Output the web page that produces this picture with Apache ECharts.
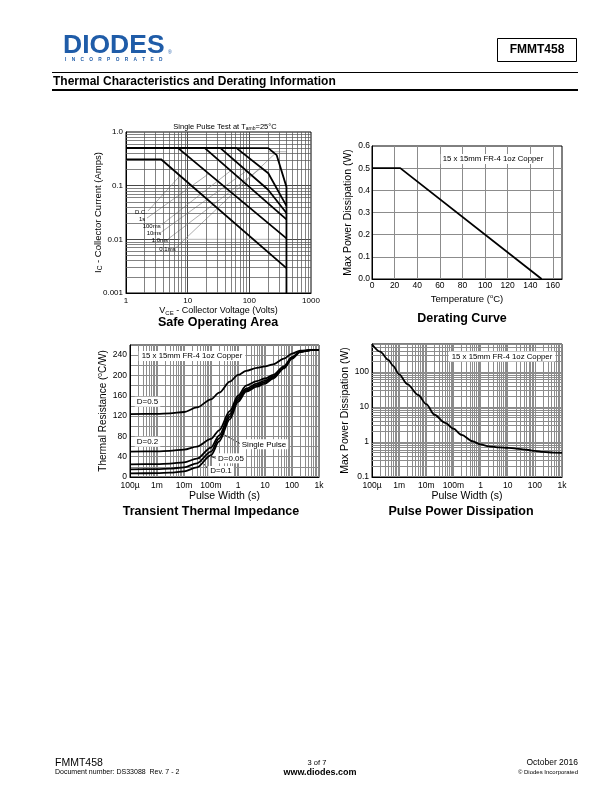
<!DOCTYPE html>
<html>
<head>
<meta charset="utf-8">
<script src="https://cdn.jsdelivr.net/npm/echarts@6.0.0/dist/echarts.min.js"></script>
<style>
html,body{margin:0;padding:0;background:#fff;}
#chart{width:612px;height:792px;}
</style>
</head>
<body>
<div id="chart"></div>
<script>
// ---------- Safe Operating Area : [Vce (V), Ic (A)] ----------
const soaDC    = [[1,0.31],[3.7,0.31],[400,0.0029]];
const soa1s    = [[1,0.5],[7,0.5],[400,0.0104]];
const soa100ms = [[1,0.5],[19,0.5],[400,0.0236]];
const soa10ms  = [[1,0.5],[34,0.5],[200,0.085],[400,0.031]];
const soa1ms   = [[1,0.5],[62,0.5],[203,0.17],[400,0.042]];
const soa01ms  = [[1,0.5],[203,0.5],[278,0.37],[400,0.095],[400,0.001]];
const soaCurveLabels = ['D.C.','1s','100ms','10ms','1.0ms','0.1ms'];
const soaLeaderFrom = [[2.27,0.0337],[2.19,0.0249],[3.83,0.0189],[3.76,0.0137],[4.8,0.0101],[6.47,0.0070]];
const soaLeaderTo   = [[7.5,0.153],[22,0.167],[50,0.19],[90,0.189],[150,0.207],[260,0.395]];
const soaBox1 = [[7.5,0.153],[7.5,0.01],[400,0.01]];
const soaBox2 = [[203,0.43],[400,0.43]];
const soaXTicks = [1,10,100,1000];
const soaXLabels = ['1','10','100','1000'];
const soaYTicks = [0.001,0.01,0.1,1];
const soaYLabels = ['0.001','0.01','0.1','1.0'];

// ---------- Derating curve ----------
const derTemp  = [0, 25, 150];
const derPower = [0.5, 0.5, 0];

// ---------- Transient thermal impedance ----------
const ztTime   = [1e-4,1e-3,3e-3,1e-2,3e-2,0.1,0.2,0.5,1,2,5,10,20,50,100,200,500,1000];
const ztD05    = [124,124.5,125.5,128,137,153,166,188,201,209,215,218,222,233,243,249,250,250];
const ztD02    = [50,50.5,51.5,54,60,75,92,130,160,180,189,194,201,218,236,247,250,250];
const ztD01    = [25,25.5,26.5,29,36,58,82,124,156,174,184,190,198,216,235,247,250,250];
const ztD005   = [15,15.5,16.5,19,27,50,76,119,152,171,181,187,196,215,234,247,250,250];
const ztSingle = [7,7.5,8.5,11,19,43,70,114,148,168,178,184,194,214,233,246,250,250];
const ztCurveLabels = ['D=0.5','D=0.2','Single Pulse','D=0.05','D=0.1'];
const ztLeaderFrom = [[1.27,65],[0.151,37],[0.083,14]];
const ztLeaderTo   = [[0.27,85],[0.07,43],[0.035,38]];
const timeTicks  = [1e-4,1e-3,1e-2,1e-1,1,10,100,1000];
const timeLabels = ['100\u00b5','1m','10m','100m','1','10','100','1k'];
const ztYTicks  = [0,40,80,120,160,200,240];
const ztYLabels = ['0','40','80','120','160','200','240'];

// ---------- Pulse power dissipation ----------
const ppTime  = [1e-4,2e-4,4e-4,6e-4,1e-3,2e-3,5e-3,1e-2,2e-2,5e-2,0.1,0.2,0.5,1,2,5,10,20,50,100,200,500,1000];
const ppPower = [620,380,220,150,85,45,22,12,6.0,3.5,2.4,1.6,1.05,0.85,0.75,0.7,0.68,0.65,0.6,0.56,0.52,0.5,0.49];
const ppYTicks  = [0.1,1,10,100];
const ppYLabels = ['0.1','1','10','100'];

// ---------- helpers ----------
const FONT = '"Liberation Sans", Arial, Helvetica, sans-serif';
function f(size, bold){ return (bold ? 'bold ' : '') + size + 'px ' + FONT; }
function tickLabel(v, ticks, labels){
  for (let i = 0; i < ticks.length; i++) {
    if (Math.abs(v - ticks[i]) <= Math.abs(ticks[i]) * 1e-6 + 1e-12) return labels[i];
  }
  return '';
}
function logMinors(lo, hi){
  const out = [];
  for (let e = Math.round(Math.log10(lo)); Math.pow(10, e) < hi; e++) {
    for (let k = 2; k <= 9; k++) { const v = k * Math.pow(10, e); if (v < hi) out.push(+v.toPrecision(6)); }
  }
  return out;
}
function gridSeries(idx, axis, vals, color, width, corner){
  return {
    type:'line', xAxisIndex:idx, yAxisIndex:idx, data:[corner], symbol:'none', silent:true, z:1, animation:false,
    lineStyle:{width:0},
    markLine:{silent:true, symbol:['none','none'], animation:false, precision:15, label:{show:false},
      emphasis:{disabled:true}, lineStyle:{color:color, width:width, type:'solid'},
      data: vals.map(v => ({[axis]: v}))}
  };
}
function curve(idx, data, width, smooth){
  return {type:'line', xAxisIndex:idx, yAxisIndex:idx, data:data, symbol:'none', showSymbol:false,
    smooth: smooth || false, smoothMonotone:'x', silent:true, z:5, animation:false,
    lineStyle:{color:'#000', width:width}};
}
function thinLine(idx, data, color, width){
  return {type:'line', xAxisIndex:idx, yAxisIndex:idx, data:data, symbol:'none', showSymbol:false,
    silent:true, z:3, animation:false, lineStyle:{color:color, width:width}};
}
function zip(xs, ys){ return xs.map((x, i) => [x, ys[i]]); }
function txt(text, x, y, size, opt){
  opt = opt || {};
  return {type:'text', z:100, x:x, y:y, silent:true,
    style:Object.assign({text:text, font:f(size, opt.bold), fill:opt.fill || '#000',
      align:opt.align || 'left', verticalAlign:'middle'}, opt.style || {})};
}
const boxed = {backgroundColor:'#fff', padding:[1,2,1,2]};

const axisLabelBase = {color:'#000', fontFamily:FONT};
const blackLine = {show:true, lineStyle:{color:'#000', width:1}};
const noTick = {show:false};

const series = [];
// SOA
series.push(gridSeries(0, 'xAxis', logMinors(1, 1000), '#5a5a5a', 0.75, [1, 0.001]));
series.push(gridSeries(0, 'yAxis', logMinors(0.001, 1), '#5a5a5a', 0.75, [1, 0.001]));
series.push(thinLine(0, soaBox1, '#c4c4c4', 1.2));
series.push(thinLine(0, soaBox2, '#c4c4c4', 1.2));
for (let i = 0; i < soaLeaderFrom.length; i++) series.push(thinLine(0, [soaLeaderFrom[i], soaLeaderTo[i]], '#8a8a8a', 0.7));
[soaDC, soa1s, soa100ms, soa10ms, soa1ms, soa01ms].forEach(d => series.push(curve(0, d, 1.8)));
// Derating
series.push(curve(1, zip(derTemp, derPower), 1.8));
// Transient
series.push(gridSeries(2, 'xAxis', logMinors(1e-4, 1000), '#8c8c8c', 1, [1e-4, 0]));
[ztD05, ztD02, ztD01, ztD005, ztSingle].forEach(d => series.push(curve(2, zip(ztTime, d), 1.8, 0.3)));
for (let i = 0; i < ztLeaderFrom.length; i++) series.push(thinLine(2, [ztLeaderFrom[i], ztLeaderTo[i]], '#000', 0.8));
// Pulse
series.push(gridSeries(3, 'xAxis', logMinors(1e-4, 1000), '#8c8c8c', 1, [1e-4, 0.1]));
series.push(gridSeries(3, 'yAxis', logMinors(0.1, 630), '#8c8c8c', 1, [1e-4, 0.1]));
series.push(curve(3, zip(ppTime, ppPower), 1.8, 0.3));

const gridBase = {show:true, borderColor:'#000', borderWidth:1, backgroundColor:'rgba(0,0,0,0)', containLabel:false, outerBoundsMode:'none'};

const option = {
  animation:false,
  backgroundColor:'#fff',
  textStyle:{fontFamily:FONT},
  grid:[
    Object.assign({left:126, top:132, width:185, height:161}, gridBase),
    Object.assign({left:372, top:146, width:190, height:133}, gridBase),
    Object.assign({left:130, top:345, width:189, height:132}, gridBase),
    Object.assign({left:372, top:344, width:190, height:133}, gridBase)
  ],
  xAxis:[
    {type:'log', gridIndex:0, min:1, max:1000, logBase:10, splitNumber:10,
     axisLine:blackLine, axisTick:noTick,
     splitLine:{show:true, showMinLine:false, showMaxLine:false, lineStyle:{color:'#333', width:0.9}},
     axisLabel:Object.assign({fontSize:8, margin:4, formatter:v => tickLabel(v, soaXTicks, soaXLabels)}, axisLabelBase),
     name:'{n|V}{s|CE}{n| - Collector Voltage (Volts)}', nameLocation:'middle', nameGap:12,
     nameTextStyle:{rich:{n:{fontSize:9, color:'#000', fontFamily:FONT, lineHeight:11},
                          s:{fontSize:6, color:'#000', fontFamily:FONT, lineHeight:11, verticalAlign:'bottom'}}}},
    {type:'value', gridIndex:1, min:0, max:168, interval:20,
     axisLine:blackLine, axisTick:noTick,
     splitLine:{show:true, showMinLine:false, showMaxLine:false, lineStyle:{color:'#8c8c8c', width:1}},
     axisLabel:Object.assign({fontSize:8.5, margin:2, showMaxLabel:false}, axisLabelBase),
     name:'Temperature ({sup|o}C)', nameLocation:'middle', nameGap:14,
     nameTextStyle:{fontSize:9.5, color:'#000', lineHeight:12,
       rich:{sup:{fontSize:6, color:'#000', fontFamily:FONT, lineHeight:12, verticalAlign:'top'}}}},
    {type:'log', gridIndex:2, min:1e-4, max:1000, logBase:10, splitNumber:10,
     axisLine:blackLine, axisTick:noTick,
     splitLine:{show:true, showMinLine:false, showMaxLine:false, lineStyle:{color:'#8c8c8c', width:1}},
     axisLabel:Object.assign({fontSize:8.5, margin:4, formatter:v => tickLabel(v, timeTicks, timeLabels)}, axisLabelBase),
     name:'Pulse Width (s)', nameLocation:'middle', nameGap:11, nameTextStyle:{fontSize:10.5, color:'#000'}},
    {type:'log', gridIndex:3, min:1e-4, max:1000, logBase:10, splitNumber:10,
     axisLine:blackLine, axisTick:noTick,
     splitLine:{show:true, showMinLine:false, showMaxLine:false, lineStyle:{color:'#8c8c8c', width:1}},
     axisLabel:Object.assign({fontSize:8.5, margin:4, formatter:v => tickLabel(v, timeTicks, timeLabels)}, axisLabelBase),
     name:'Pulse Width (s)', nameLocation:'middle', nameGap:11, nameTextStyle:{fontSize:10.5, color:'#000'}}
  ],
  yAxis:[
    {type:'log', gridIndex:0, min:0.001, max:1, logBase:10, splitNumber:10,
     axisLine:blackLine, axisTick:noTick,
     splitLine:{show:true, showMinLine:false, showMaxLine:false, lineStyle:{color:'#333', width:0.9}},
     axisLabel:Object.assign({fontSize:8, margin:3, formatter:v => tickLabel(v, soaYTicks, soaYLabels)}, axisLabelBase),
     name:'{n|I}{s|C}{n| - Collector Current (Amps)}', nameLocation:'middle', nameGap:22, nameRotate:90,
     nameMoveOverlap:false,
     nameTextStyle:{rich:{n:{fontSize:9.5, color:'#000', fontFamily:FONT, lineHeight:12},
                          s:{fontSize:6.5, color:'#000', fontFamily:FONT, lineHeight:12, verticalAlign:'bottom'}}}},
    {type:'value', gridIndex:1, min:0, max:0.6, interval:0.1,
     axisLine:blackLine, axisTick:noTick,
     splitLine:{show:true, showMinLine:false, showMaxLine:false, lineStyle:{color:'#8c8c8c', width:1}},
     axisLabel:Object.assign({fontSize:8.5, margin:2, formatter:v => v.toFixed(1)}, axisLabelBase),
     name:'Max Power Dissipation (W)', nameLocation:'middle', nameGap:18, nameRotate:90,
     nameTextStyle:{fontSize:10.5, color:'#000'}},
    {type:'value', gridIndex:2, min:0, max:260, interval:20,
     axisLine:blackLine, axisTick:noTick,
     splitLine:{show:true, showMinLine:false, showMaxLine:false, lineStyle:{color:'#8c8c8c', width:1}},
     axisLabel:Object.assign({fontSize:8.5, margin:3, showMaxLabel:false, formatter:v => tickLabel(v, ztYTicks, ztYLabels)}, axisLabelBase),
     name:'Thermal Resistance ({sup|o}C/W)', nameLocation:'middle', nameGap:21, nameRotate:90,
     nameTextStyle:{fontSize:10, color:'#000', lineHeight:12,
       rich:{sup:{fontSize:6.5, color:'#000', fontFamily:FONT, lineHeight:12, verticalAlign:'top'}}}},
    {type:'log', gridIndex:3, min:0.1, max:630, logBase:10, splitNumber:10,
     axisLine:blackLine, axisTick:noTick,
     splitLine:{show:true, showMinLine:false, showMaxLine:false, lineStyle:{color:'#8c8c8c', width:1}},
     axisLabel:Object.assign({fontSize:8.5, margin:3, formatter:v => tickLabel(v, ppYTicks, ppYLabels)}, axisLabelBase),
     name:'Max Power Dissipation (W)', nameLocation:'middle', nameGap:14, nameRotate:90,
     nameTextStyle:{fontSize:10.5, color:'#000'}}
  ],
  series: series,
  graphic: {elements: [
    // header
    {type:'text', x:63, y:46, scaleX:1.06, z:100, silent:true,
     style:{text:'DIODES', font:f(25, true), fill:'#1f5ca8', align:'left', verticalAlign:'middle'}},
    txt('\u00ae', 168, 53, 5, {fill:'#1f5ca8'}),
    txt('I    N    C    O    R    P    O    R    A    T    E    D', 65, 60, 4.8, {bold:true, fill:'#1f5ca8'}),
    {type:'rect', z:100, silent:true, shape:{x:497.5, y:38.5, width:79, height:23}, style:{fill:'none', stroke:'#000', lineWidth:1}},
    txt('FMMT458', 537, 50, 12, {bold:true, align:'center'}),
    {type:'line', z:100, silent:true, shape:{x1:52, y1:72.5, x2:578, y2:72.5}, style:{stroke:'#000', lineWidth:1}},
    txt('Thermal Characteristics and Derating Information', 53, 81.5, 12, {bold:true}),
    {type:'line', z:100, silent:true, shape:{x1:52, y1:90, x2:578, y2:90}, style:{stroke:'#000', lineWidth:2}},
    // SOA annotations
    {type:'text', z:100, x:225, y:127, silent:true,
     style:{text:'{a|Single Pulse Test at T}{b|amb}{a|=25\u00b0C}', align:'center', verticalAlign:'middle',
       rich:{a:{fontSize:7.5, fontFamily:FONT, fill:'#000', lineHeight:9},
             b:{fontSize:5, fontFamily:FONT, fill:'#000', lineHeight:9, verticalAlign:'bottom'}}}},
    txt(soaCurveLabels[0], 135, 212.3, 6),
    txt(soaCurveLabels[1], 139, 219.3, 6),
    txt(soaCurveLabels[2], 142.7, 226, 6),
    txt(soaCurveLabels[3], 146.7, 233.3, 6),
    txt(soaCurveLabels[4], 151.7, 240.7, 6),
    txt(soaCurveLabels[5], 159.3, 249, 6),
    txt('Safe Operating Area', 218, 323, 12.5, {bold:true, align:'center'}),
    // Derating
    txt('15 x 15mm FR-4 1oz Copper', 493, 159, 7.8, {align:'center', style:boxed}),
    txt('Derating Curve', 462, 318.5, 12.5, {bold:true, align:'center'}),
    // Transient
    txt('15 x 15mm FR-4 1oz Copper', 192, 356, 7.8, {align:'center', style:{backgroundColor:'#fff', padding:[1,3,1,3]}}),
    txt(ztCurveLabels[0], 147.5, 401.7, 8, {align:'center', style:boxed}),
    txt(ztCurveLabels[1], 147.5, 441.7, 8, {align:'center', style:boxed}),
    txt(ztCurveLabels[2], 264, 444.3, 8, {align:'center', style:boxed}),
    txt(ztCurveLabels[3], 231, 458.3, 8, {align:'center', style:boxed}),
    txt(ztCurveLabels[4], 221, 471, 8, {align:'center', style:boxed}),
    txt('Transient Thermal Impedance', 211, 511.5, 12.5, {bold:true, align:'center'}),
    // Pulse
    txt('15 x 15mm FR-4 1oz Copper', 502, 356.5, 7.8, {align:'center', style:{backgroundColor:'#fff', padding:[1,3,1,3]}}),
    txt('Pulse Power Dissipation', 461, 511.5, 12.5, {bold:true, align:'center'}),
    // footer
    txt('FMMT458', 55, 763, 10.5),
    txt('Document number: DS33088  Rev. 7 - 2', 55, 772.5, 7),
    txt('3 of 7', 317, 763, 7.5, {align:'center'}),
    txt('www.diodes.com', 320, 772.5, 9, {bold:true, align:'center'}),
    txt('October 2016', 578, 763, 8.5, {align:'right'}),
    txt('\u00a9 Diodes Incorporated', 578, 772.5, 6, {align:'right'})
  ]}
};

const chart = echarts.init(document.getElementById('chart'), null, {renderer:'canvas', width:612, height:792});
chart.setOption(option);
</script>
</body>
</html>
